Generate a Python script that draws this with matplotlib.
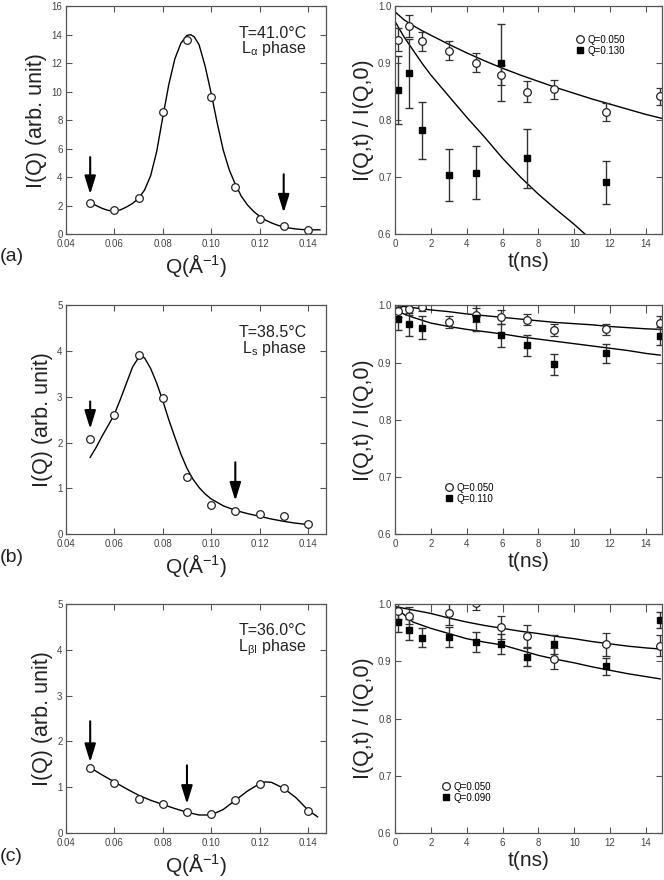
import numpy as np
import matplotlib.pyplot as plt

plt.rcParams['font.family'] = ['Liberation Sans', 'DejaVu Sans']
plt.rcParams['mathtext.fontset'] = 'custom'
plt.rcParams['mathtext.rm'] = 'Liberation Sans'
plt.rcParams['mathtext.it'] = 'Liberation Sans'

# ---- static I(Q) data ----
q_pts = [0.05, 0.06, 0.07, 0.08, 0.09, 0.10, 0.11, 0.12, 0.13, 0.14]
iq_a = [2.16, 1.69, 2.53, 8.6, 13.65, 9.62, 3.29, 1.06, 0.54, 0.28]
iq_b = [2.07, 2.61, 3.92, 2.97, 1.24, 0.64, 0.50, 0.44, 0.39, 0.22]
iq_c = [1.43, 1.10, 0.74, 0.63, 0.47, 0.42, 0.72, 1.07, 0.98, 0.49]

# fitted curves
fit_q_a = [0.050, 0.0525, 0.055, 0.0575, 0.060, 0.0625, 0.065, 0.0675, 0.070, 0.0725,
           0.075, 0.0775, 0.080, 0.0825, 0.085, 0.0875, 0.090, 0.0915, 0.093, 0.095,
           0.0975, 0.100, 0.1025, 0.105, 0.1075, 0.110, 0.1125, 0.115, 0.1175, 0.120,
           0.1225, 0.125, 0.1275, 0.130, 0.1325, 0.135, 0.1375, 0.140, 0.145]
fit_i_a = [2.20, 2.0, 1.8, 1.66, 1.62, 1.7, 1.9, 2.15, 2.5, 3.1,
           4.1, 5.8, 8.2, 10.5, 12.3, 13.4, 13.95, 14.0, 13.85, 13.3,
           11.8, 9.9, 7.8, 5.9, 4.5, 3.5, 2.65, 2.05, 1.6, 1.25,
           0.98, 0.78, 0.62, 0.5, 0.42, 0.36, 0.32, 0.30, 0.30]
fit_q_b = [0.050, 0.0525, 0.055, 0.0575, 0.060, 0.0625, 0.065, 0.0675, 0.070, 0.0715,
           0.0725, 0.075, 0.0775, 0.080, 0.0825, 0.085, 0.0875, 0.090, 0.0925, 0.095,
           0.0975, 0.100, 0.105, 0.110, 0.115, 0.120, 0.125, 0.130, 0.135, 0.140]
fit_i_b = [1.68, 1.9, 2.15, 2.38, 2.62, 2.95, 3.3, 3.65, 3.86, 3.88,
           3.85, 3.62, 3.3, 2.92, 2.5, 2.12, 1.75, 1.44, 1.2, 1.02,
           0.88, 0.77, 0.62, 0.52, 0.45, 0.39, 0.33, 0.28, 0.24, 0.21]
fit_q_c = [0.050, 0.055, 0.060, 0.065, 0.070, 0.075, 0.080, 0.085, 0.090, 0.095,
           0.100, 0.105, 0.110, 0.115, 0.120, 0.1225, 0.125, 0.130, 0.135, 0.140, 0.144]
fit_i_c = [1.43, 1.27, 1.12, 0.97, 0.83, 0.72, 0.63, 0.54, 0.46, 0.40,
           0.40, 0.52, 0.72, 0.92, 1.08, 1.12, 1.11, 0.98, 0.78, 0.51, 0.36]

# ---- I(Q,t)/I(Q,0) data ----
t_all = [0.15, 0.75, 1.5, 3.0, 4.5, 5.9, 7.35, 8.85, 11.8, 14.8]

a_c = [0.941, 0.965, 0.938, 0.922, 0.901, 0.879, 0.850, 0.854, 0.814, 0.842]
a_c_err = [0.02, 0.02, 0.017, 0.017, 0.017, 0.018, 0.018, 0.017, 0.016, 0.015]
a_s_t = [0.15, 0.75, 1.5, 3.0, 4.5, 5.9, 7.35, 11.8]
a_s = [0.853, 0.882, 0.782, 0.704, 0.708, 0.901, 0.733, 0.691]
a_s_err = [0.06, 0.06, 0.05, 0.046, 0.046, 0.068, 0.052, 0.038]

b_c = [0.990, 0.994, 0.998, 0.971, 0.983, 0.980, 0.975, 0.957, 0.958, 0.970]
b_c_err = [0.01, 0.01, 0.008, 0.01, 0.012, 0.012, 0.01, 0.01, 0.01, 0.012]
b_s_t = [0.15, 0.75, 1.5, 4.5, 5.9, 7.35, 8.85, 11.8, 14.8]
b_s = [0.977, 0.967, 0.961, 0.978, 0.948, 0.930, 0.897, 0.916, 0.946]
b_s_err = [0.02, 0.02, 0.02, 0.023, 0.02, 0.018, 0.018, 0.016, 0.016]

c_c_t = [0.15, 0.75, 3.0, 4.5, 5.9, 7.35, 8.85, 11.8, 14.8]
c_c = [0.988, 0.979, 0.983, 1.001, 0.959, 0.943, 0.904, 0.929, 0.927]
c_c_err = [0.015, 0.015, 0.02, 0.012, 0.02, 0.02, 0.018, 0.02, 0.018]
c_s = [0.968, 0.955, 0.941, 0.942, 0.933, 0.930, 0.908, 0.929, 0.891, 0.972]
c_s_err = [0.017, 0.018, 0.016, 0.018, 0.017, 0.017, 0.016, 0.017, 0.015, 0.014]

fit_t_a1 = [0, 0.5, 1, 1.5, 2, 3, 4, 5, 6, 7, 8, 9, 10, 11, 12, 13, 14, 14.9]
fit_a1 = [0.99, 0.976, 0.966, 0.957, 0.949, 0.933, 0.918, 0.904, 0.891, 0.879, 0.868,
          0.857, 0.847, 0.837, 0.828, 0.819, 0.81, 0.803]
fit_t_a2 = [0, 0.5, 1, 1.5, 2, 3, 4, 5, 6, 7, 8, 9, 10, 10.6]
fit_a2 = [0.973, 0.946, 0.923, 0.9, 0.879, 0.842, 0.805, 0.77, 0.733, 0.7, 0.67, 0.643,
          0.617, 0.6]
fit_t_b = [0, 0.5, 1, 1.5, 2, 3, 4, 5, 6, 7, 8, 9, 10, 11, 12, 13, 14, 14.8]
fit_b1 = [1.0, 0.998, 0.996, 0.994, 0.992, 0.989, 0.985, 0.982, 0.979, 0.976, 0.973,
          0.970, 0.968, 0.966, 0.963, 0.961, 0.959, 0.958]
fit_b2 = [0.991, 0.985, 0.979, 0.974, 0.969, 0.963, 0.958, 0.954, 0.95, 0.945, 0.941,
          0.937, 0.933, 0.929, 0.925, 0.921, 0.916, 0.913]
fit_t_c = [0, 1, 2, 3, 4, 5, 6, 7, 8, 9, 10, 11, 12, 13, 14, 14.8]
fit_c1 = [0.995, 0.989, 0.983, 0.975, 0.968, 0.962, 0.957, 0.952, 0.948, 0.943, 0.939,
          0.934, 0.930, 0.926, 0.923, 0.921]
fit_c2 = [0.994, 0.968, 0.957, 0.948, 0.939, 0.933, 0.928, 0.919, 0.91, 0.903, 0.897,
          0.89, 0.884, 0.878, 0.873, 0.869]

temps = ['T=41.0°C', 'T=38.5°C', 'T=36.0°C']
phases = [r'L$_{\alpha}$ phase', r'L$_{s}$ phase', r'L$_{\beta\mathrm{I}}$ phase']
q_labels = [('Q=0.050', 'Q=0.130'), ('Q=0.050', 'Q=0.110'), ('Q=0.050', 'Q=0.090')]
arrows = [((0.05, 5.4, 2.8), (0.13, 4.2, 1.5)),
          ((0.05, 2.9, 2.3), (0.11, 1.57, 0.73)),
          ((0.05, 2.44, 1.55), (0.09, 1.48, 0.64))]
panel_tags = ['(a)', '(b)', '(c)']

fig = plt.figure(figsize=(6.64, 8.8), dpi=100)
rows = [(0.734, 0.259), (0.393, 0.260), (0.053, 0.261)]
tick_col = '#444444'
frame_col = '#555555'
text_col = '#222222'


def style(ax):
    ax.tick_params(direction='in', top=True, right=True, labelsize=7, length=4,
                   width=0.8, colors=frame_col, labelcolor=tick_col)
    ax.tick_params(axis='x', pad=3.5)
    ax.tick_params(axis='y', pad=2.5)
    for s in ax.spines.values():
        s.set_color(frame_col)
        s.set_linewidth(0.9)


sets = [
    (iq_a, fit_q_a, fit_i_a, 16, np.arange(0, 17, 2)),
    (iq_b, fit_q_b, fit_i_b, 5, np.arange(0, 6, 1)),
    (iq_c, fit_q_c, fit_i_c, 5, np.arange(0, 6, 1)),
]
dyn = [
    (t_all, a_c, a_c_err, a_s_t, a_s, a_s_err, fit_t_a1, fit_a1, fit_t_a2, fit_a2),
    (t_all, b_c, b_c_err, b_s_t, b_s, b_s_err, fit_t_b, fit_b1, fit_t_b, fit_b2),
    (c_c_t, c_c, c_c_err, t_all, c_s, c_s_err, fit_t_c, fit_c1, fit_t_c, fit_c2),
]
leg_pos = [(0.655, 0.90), (0.165, 0.25), (0.155, 0.25)]

for i, (bot, h) in enumerate(rows):
    iq, fq, fi, ymax, yt = sets[i]
    ax = fig.add_axes([0.0994, bot, 0.3916, h])
    ax.plot(fq, fi, color='black', lw=1.0)
    ax.plot(q_pts, iq, 'o', mfc='white', mec='#222222', ms=5.5, mew=0.9)
    for qx, y0, y1 in arrows[i]:
        ax.annotate('', xy=(qx, y1), xytext=(qx, y0),
                    arrowprops=dict(arrowstyle='-|>,head_width=0.34,head_length=1.1',
                                    color='black', lw=1.5, mutation_scale=10,
                                    shrinkA=0, shrinkB=0))
    ax.set_xlim(0.04, 0.1475)
    ax.set_ylim(0, ymax)
    ax.set_xticks([0.04, 0.06, 0.08, 0.10, 0.12, 0.14])
    ax.set_xticklabels(['0.04', '0.06', '0.08', '0.10', '0.12', '0.14'])
    ax.set_yticks(yt)
    style(ax)
    ax.set_xlabel('Q(Å$^{-1}$)', fontsize=15, labelpad=2, color=text_col)
    ax.set_ylabel('I(Q) (arb. unit)', fontsize=15.5, labelpad=3, color=text_col)
    ax.text(0.925, 0.915, temps[i], transform=ax.transAxes, ha='right', va='top',
            fontsize=11.5, color=text_col)
    ax.text(0.925, 0.855, phases[i], transform=ax.transAxes, ha='right', va='top',
            fontsize=11.5, color=text_col)
    fig.text(0.0, bot - 0.026, panel_tags[i], fontsize=14, ha='left', va='center',
             color=text_col)

    tc, yc, ec, ts, ys, es, ft1, f1, ft2, f2 = dyn[i]
    ax2 = fig.add_axes([0.595, bot, 0.402, h])
    ax2.plot(ft1, f1, color='black', lw=1.0)
    ax2.plot(ft2, f2, color='black', lw=1.0)
    ax2.errorbar(tc, yc, yerr=ec, fmt='o', mfc='white', mec='#222222', ms=5.5,
                 mew=0.9, ecolor='#333333', elinewidth=1.0, capsize=3, capthick=1.0,
                 label=q_labels[i][0])
    ax2.errorbar(ts, ys, yerr=es, fmt='s', mfc='black', mec='black', ms=5,
                 ecolor='#333333', elinewidth=1.0, capsize=3, capthick=1.0,
                 label=q_labels[i][1])
    ax2.set_xlim(0, 14.9)
    ax2.set_ylim(0.6, 1.0)
    ax2.set_xticks(np.arange(0, 15, 2))
    ax2.set_yticks([0.6, 0.7, 0.8, 0.9, 1.0])
    ax2.set_yticklabels(['0.6', '0.7', '0.8', '0.9', '1.0'])
    style(ax2)
    if i > 0:
        # the lower two dynamics panels have longer ticks along the top edge
        for tk in ax2.xaxis.get_major_ticks():
            tk.tick2line.set_markersize(6)
    ax2.set_xlabel('t(ns)', fontsize=15, labelpad=2, color=text_col)
    ax2.set_ylabel('I(Q,t) / I(Q,0)', fontsize=15.5, labelpad=3, color=text_col)
    h_, l_ = ax2.get_legend_handles_labels()
    hh = [x[0] for x in h_]
    ax2.legend(hh, l_, loc='upper left', bbox_to_anchor=leg_pos[i], frameon=False,
               fontsize=7, handlelength=0.8, handletextpad=0.4, borderpad=0.1,
               labelspacing=0.1)

fig.savefig('out.png', dpi=100)
